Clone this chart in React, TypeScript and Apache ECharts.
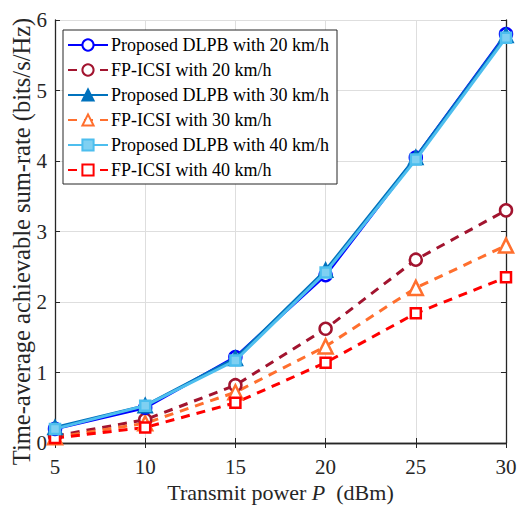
import React, { useEffect, useRef } from "react";
import * as echarts from "echarts";

const xValues = [5, 10, 15, 20, 25, 30];
const dlpb20 = [0.2, 0.5, 1.22, 2.38, 4.05, 5.8];
const fp20 = [0.1, 0.33, 0.82, 1.62, 2.6, 3.3];
const dlpb30 = [0.22, 0.53, 1.2, 2.45, 4.05, 5.78];
const fp30 = [0.08, 0.28, 0.72, 1.37, 2.2, 2.8];
const dlpb40 = [0.2, 0.53, 1.17, 2.42, 4.02, 5.75];
const fp40 = [0.07, 0.22, 0.57, 1.14, 1.84, 2.35];
const names = [
  "Proposed DLPB with 20 km/h",
  "FP-ICSI with 20 km/h",
  "Proposed DLPB with 30 km/h",
  "FP-ICSI with 30 km/h",
  "Proposed DLPB with 40 km/h",
  "FP-ICSI with 40 km/h",
];

const FONT = "Liberation Serif";

export default function App() {
  const ref = useRef<HTMLDivElement>(null);
  useEffect(() => {
    const chart = echarts.init(ref.current!, null, { renderer: "svg" });
    const mk = (
      name: string,
      data: number[],
      color: string,
      symbol: string,
      size: number,
      dashed: boolean,
      z: number,
      fill: string
    ) => ({
      name,
      type: "line",
      data: xValues.map((x, i) => [x, data[i]]),
      symbol,
      symbolSize: size,
      z,
      lineStyle: { color, width: 3, type: dashed ? [9, 7] : "solid" },
      itemStyle: { color: fill, borderColor: color, borderWidth: 2.5 },
    });
    const axisCommon = {
      axisLine: { show: true, lineStyle: { color: "#262626", width: 1.3 } },
      axisTick: { show: true, inside: true, length: 5, lineStyle: { color: "#262626" } },
    };
    chart.setOption({
      animation: false,
      backgroundColor: "#fff",
      grid: { left: 55, right: 12, top: 20, bottom: 65, containLabel: false, outerBoundsMode: "none" },
      legend: {
        left: 63,
        top: 30,
        orient: "vertical",
        itemWidth: 40,
        itemHeight: 14,
        itemGap: 7,
        padding: [6, 8, 5, 4],
        borderColor: "#262626",
        borderWidth: 1,
        backgroundColor: "#fff",
        textStyle: { fontFamily: FONT, fontSize: 18, lineHeight: 18, color: "#000", padding: [0, 0, 0, -2] },
        data: names,
      },
      xAxis: [
        {
          type: "value",
          min: 5,
          max: 30,
          interval: 5,
          ...axisCommon,
          axisLabel: { fontFamily: FONT, fontSize: 21, color: "#262626", margin: 13 },
          splitLine: { show: true, lineStyle: { color: "#dedede" } },
          name: "{n|Transmit power }{i|P}{n|  (dBm)}",
          nameLocation: "middle",
          nameGap: 38,
          nameTextStyle: {
            rich: {
              n: { fontFamily: FONT, fontSize: 22, color: "#262626" },
              i: { fontFamily: FONT, fontSize: 22, fontStyle: "italic", color: "#262626" },
            },
          },
        },
        {
          type: "value",
          min: 5,
          max: 30,
          interval: 5,
          position: "top",
          ...axisCommon,
          axisLabel: { show: false },
          splitLine: { show: false },
        },
      ],
      yAxis: [
        {
          type: "value",
          min: 0,
          max: 6,
          interval: 1,
          ...axisCommon,
          axisLabel: { fontFamily: FONT, fontSize: 21, color: "#262626", margin: 8 },
          splitLine: { show: true, lineStyle: { color: "#dedede" } },
          name: "Time-average achievable sum-rate (bits/s/Hz)",
          nameLocation: "middle",
          nameGap: 21,
          nameMoveOverlap: false,
          nameTextStyle: { fontFamily: FONT, fontSize: 24.5, color: "#262626", padding: [0, 20, 0, 0] },
        },
        {
          type: "value",
          min: 0,
          max: 6,
          interval: 1,
          position: "right",
          ...axisCommon,
          axisLabel: { show: false },
          splitLine: { show: false },
        },
      ],
      series: [
        mk(names[0], dlpb20, "#0000ff", "circle", 12, false, 3, "#fff"),
        mk(names[1], fp20, "#a2142f", "circle", 12, true, 2, "#fff"),
        mk(names[2], dlpb30, "#0072bd", "triangle", 13, false, 4, "#0072bd"),
        mk(names[3], fp30, "#ff6f2e", "triangle", 14, true, 2, "#fff"),
        mk(names[4], dlpb40, "#4dbeee", "rect", 10, false, 5, "#7fd0f2"),
        mk(names[5], fp40, "#ff0000", "rect", 10, true, 2, "#fff"),
      ],
    });
    return () => chart.dispose();
  }, []);
  return <div ref={ref} style={{ width: 518, height: 508, position: "absolute", left: 0, top: 0 }} />;
}
